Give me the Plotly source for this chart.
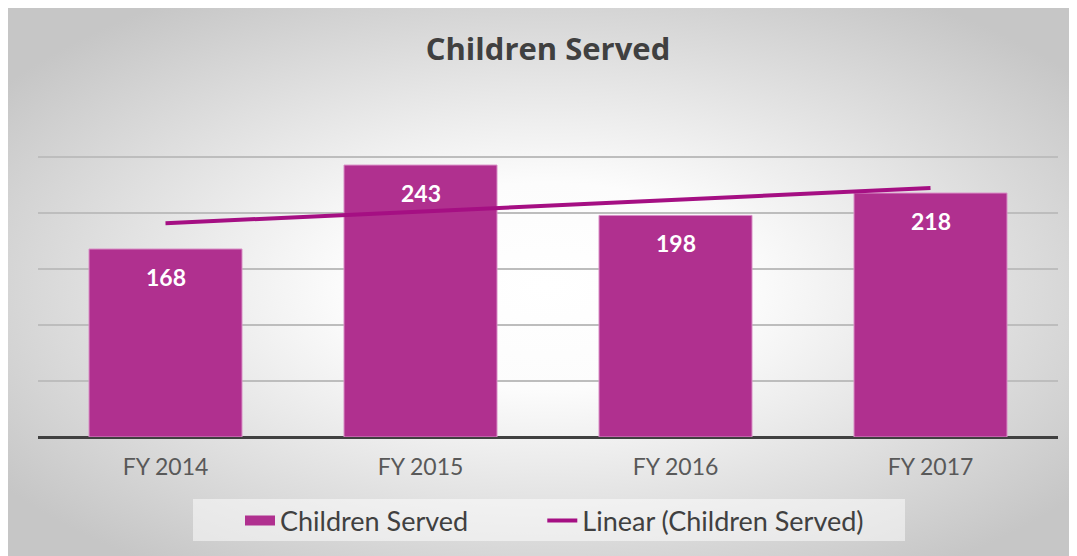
import base64
import numpy as np
import plotly.graph_objects as go

categories = ["FY 2014", "FY 2015", "FY 2016", "FY 2017"]
children_served = [168, 243, 198, 218]

# linear trend (least squares, like Excel's linear trendline)
xi = np.arange(1, len(children_served) + 1)
slope, intercept = np.polyfit(xi, children_served, 1)
trend = list(slope * xi + intercept)

BAR = "#b0308f"
W, H = 1077, 556
ml, mr, mt, mb = 30, 27, 147, 127
pw, ph = W - ml - mr, H - mt - mb

svg = (
    '<svg xmlns="http://www.w3.org/2000/svg" width="1077" height="556" viewBox="0 0 1077 556" preserveAspectRatio="none">'
    '<defs><radialGradient id="g" cx="50%" cy="50%" r="62%" gradientUnits="objectBoundingBox">'
    '<stop offset="0%" stop-color="#ffffff"/><stop offset="30%" stop-color="#fcfcfc"/>'
    '<stop offset="100%" stop-color="#c6c6c6"/></radialGradient></defs>'
    '<rect x="0" y="0" width="1077" height="556" fill="url(#g)"/></svg>'
)
src = "data:image/svg+xml;base64," + base64.b64encode(svg.encode()).decode()

x0 = -ml / pw
ytop = 1 + mt / ph
ybot = -mb / ph


def px_x(page_x):
    return (page_x - 8 - ml) / pw


def px_y(page_y):
    return (H - mb - (page_y - 8)) / ph


fig = go.Figure()
fig.add_trace(go.Bar(
    x=categories, y=children_served, name="Children Served",
    marker=dict(color=BAR, line=dict(color="#d98fc6", width=1)),
    showlegend=False, hoverinfo="x+y",
))
# legend entry mimicking the wide bar swatch
fig.add_trace(go.Scatter(
    x=[None], y=[None], mode="lines", name="Children Served" + "\u00a0" * 10,
    line=dict(color=BAR, width=14),
))
fig.add_trace(go.Scatter(
    x=categories, y=trend, mode="lines", name="Linear (Children Served)",
    line=dict(color="#a50f83", width=4),
))
for c, v in zip(categories, children_served):
    fig.add_annotation(x=c, y=v, text=f"<b>{v}</b>", showarrow=False,
                       yanchor="middle", yshift=-28,
                       font=dict(family="Lato", size=23, color="white"))

# legend box
fig.add_shape(type="rect", xref="paper", yref="paper",
              x0=px_x(193), x1=px_x(905), y0=px_y(541), y1=px_y(499),
              fillcolor="rgba(255,255,255,0.5)", line=dict(width=0), layer="below")

fig.update_layout(
    width=W, height=H,
    margin=dict(l=ml, r=mr, t=mt, b=mb),
    paper_bgcolor="white", plot_bgcolor="rgba(0,0,0,0)",
    bargap=0.4,
    title=dict(text="<b>Children Served</b>", x=0.5, xref="paper", xanchor="center",
               y=1 - 41 / H, yanchor="middle",
               font=dict(family="Open Sans", size=31, color="#404040")),
    xaxis=dict(showgrid=False, showline=False, ticks="", ticklabelstandoff=14,
               tickfont=dict(family="Lato", size=23, color="#595959")),
    yaxis=dict(range=[0, 252], tickvals=[0, 50, 100, 150, 200, 250],
               showticklabels=False, showgrid=True,
               gridcolor="#bdbdbd", gridwidth=1.5, zeroline=True,
               zerolinecolor="#404040", zerolinewidth=3),
    legend=dict(orientation="h", x=px_x(240), xanchor="left",
                y=px_y(521), yanchor="middle",
                bgcolor="rgba(0,0,0,0)",
                font=dict(family="Lato", size=27, color="#404040"),
                traceorder="normal"),
    images=[dict(source=src, xref="paper", yref="paper", x=x0, y=ytop,
                 sizex=W / pw, sizey=ytop - ybot, sizing="stretch",
                 xanchor="left", yanchor="top", layer="below")],
)
fig.write_html("out.html")
